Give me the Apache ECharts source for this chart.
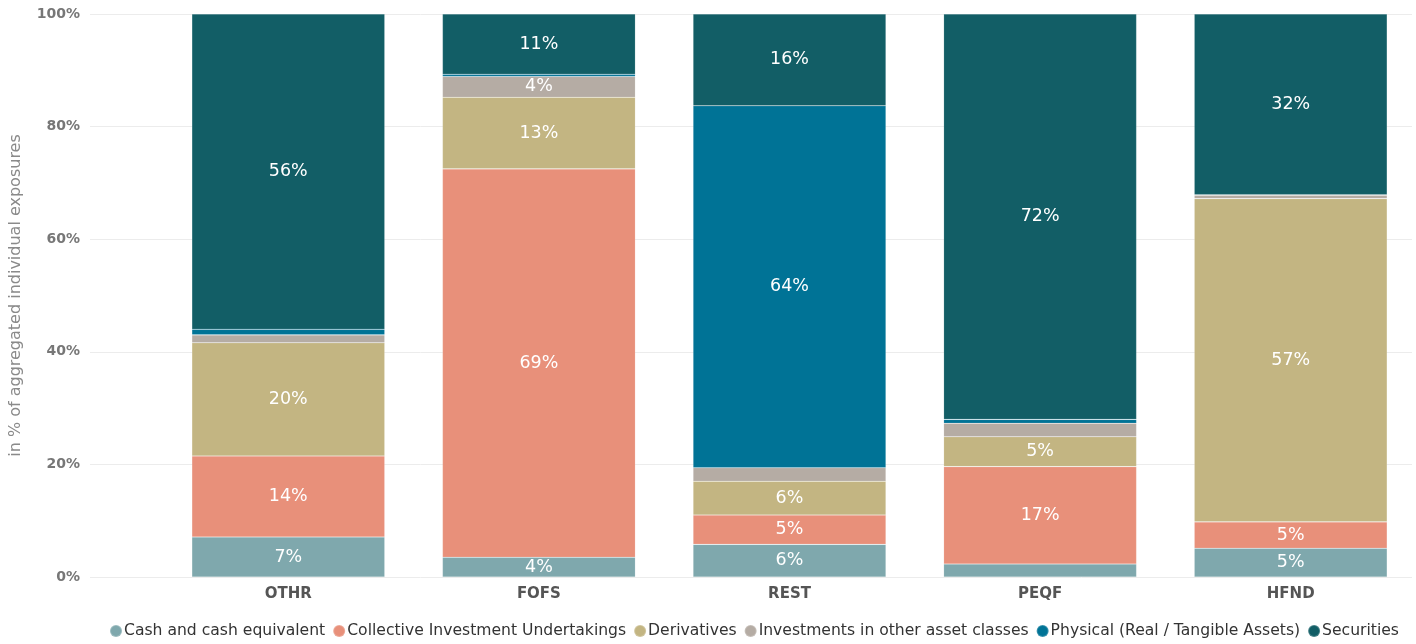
<!DOCTYPE html>
<html>
<head>
<meta charset="utf-8">
<script src="https://cdn.jsdelivr.net/npm/echarts@6/dist/echarts.min.js"></script>
<style>
  html, body { margin: 0; padding: 0; background: #fff; }
  #chart { width: 1416px; height: 644px; }
</style>
</head>
<body>
<div id="chart"></div>
<script>
// Fund types on the x axis
const categories = ['OTHR', 'FOFS', 'REST', 'PEQF', 'HFND'];

// Share of aggregated individual exposures, in %, per fund type
const cashValues        = [7.1, 3.5, 5.8, 2.3, 5.1];
const ciuValues         = [14.4, 69.0, 5.2, 17.3, 4.7];
const derivativeValues  = [20.1, 12.7, 6.0, 5.3, 57.4];
const otherValues       = [1.4, 3.7, 2.4, 2.4, 0.6];
const physicalValues    = [1.0, 0.4, 64.3, 0.7, 0.1];
const securitiesValues  = [56.0, 10.7, 16.3, 72.0, 32.1];

const seriesNames = [
  'Cash and cash equivalent',
  'Collective Investment Undertakings',
  'Derivatives',
  'Investments in other asset classes',
  'Physical (Real / Tangible Assets)',
  'Securities'
];
const seriesValues = [cashValues, ciuValues, derivativeValues, otherValues, physicalValues, securitiesValues];
const seriesColors = ['#7fa8ad', '#e8907a', '#c3b582', '#b5aca4', '#007396', '#125e66'];

const yTicks = [0, 20, 40, 60, 80, 100];

const FONT = '"DejaVu Sans", Verdana, sans-serif';

const chart = echarts.init(document.getElementById('chart'), null, { renderer: 'canvas' });

const series = seriesNames.map((name, i) => ({
  name: name,
  type: 'bar',
  stack: 'total',
  xAxisIndex: 0,
  yAxisIndex: 0,
  barWidth: '77%',
  data: seriesValues[i],
  itemStyle: {
    color: seriesColors[i],
    borderColor: 'rgba(255,255,255,0.22)',
    borderWidth: 0.6
  },
  label: {
    show: true,
    position: 'inside',
    color: '#ffffff',
    fontFamily: FONT,
    fontSize: 17.5,
    formatter: p => (p.value >= 3 ? Math.round(p.value) + '%' : '')
  },
  emphasis: { disabled: true }
}));

chart.setOption({
  animation: false,
  backgroundColor: '#ffffff',
  grid: [
    { left: 161, right: -2, top: 14, bottom: 67 },
    { left: 90, right: 4, top: 14, bottom: 67 }
  ],
  xAxis: [
    {
      type: 'category',
      gridIndex: 0,
      data: categories,
      axisLine: { show: false },
      axisTick: { show: false },
      axisLabel: {
        color: '#555',
        fontFamily: FONT,
        fontWeight: 'bold',
        fontSize: 15,
        margin: 10
      }
    },
    {
      type: 'category',
      gridIndex: 1,
      data: categories,
      show: false
    }
  ],
  yAxis: [
    {
      type: 'value',
      gridIndex: 0,
      min: yTicks[0],
      max: yTicks[yTicks.length - 1],
      interval: 20,
      splitLine: { show: false },
      axisLine: { show: false },
      axisTick: { show: false },
      axisLabel: {
        color: '#777',
        fontFamily: FONT,
        fontWeight: 'bold',
        fontSize: 14,
        margin: 83,
        formatter: v => v + '%'
      },
      name: 'in % of aggregated individual exposures',
      nameLocation: 'middle',
      nameRotate: 90,
      nameGap: 139,
      nameTextStyle: {
        color: '#8a8a8a',
        fontFamily: FONT,
        fontSize: 16
      }
    },
    {
      type: 'value',
      gridIndex: 1,
      min: yTicks[0],
      max: yTicks[yTicks.length - 1],
      interval: 20,
      axisLine: { show: false },
      axisTick: { show: false },
      axisLabel: { show: false },
      splitLine: { show: true, lineStyle: { color: '#ececec', width: 1 } }
    }
  ],
  legend: {
    bottom: 0,
    left: 104,
    icon: 'circle',
    itemWidth: 12,
    itemHeight: 12,
    itemGap: 7,
    textStyle: {
      color: '#333',
      fontFamily: FONT,
      fontSize: 15.6,
      padding: [0, 0, 0, -3]
    },
    data: seriesNames
  },
  series: series
});
</script>
</body>
</html>
